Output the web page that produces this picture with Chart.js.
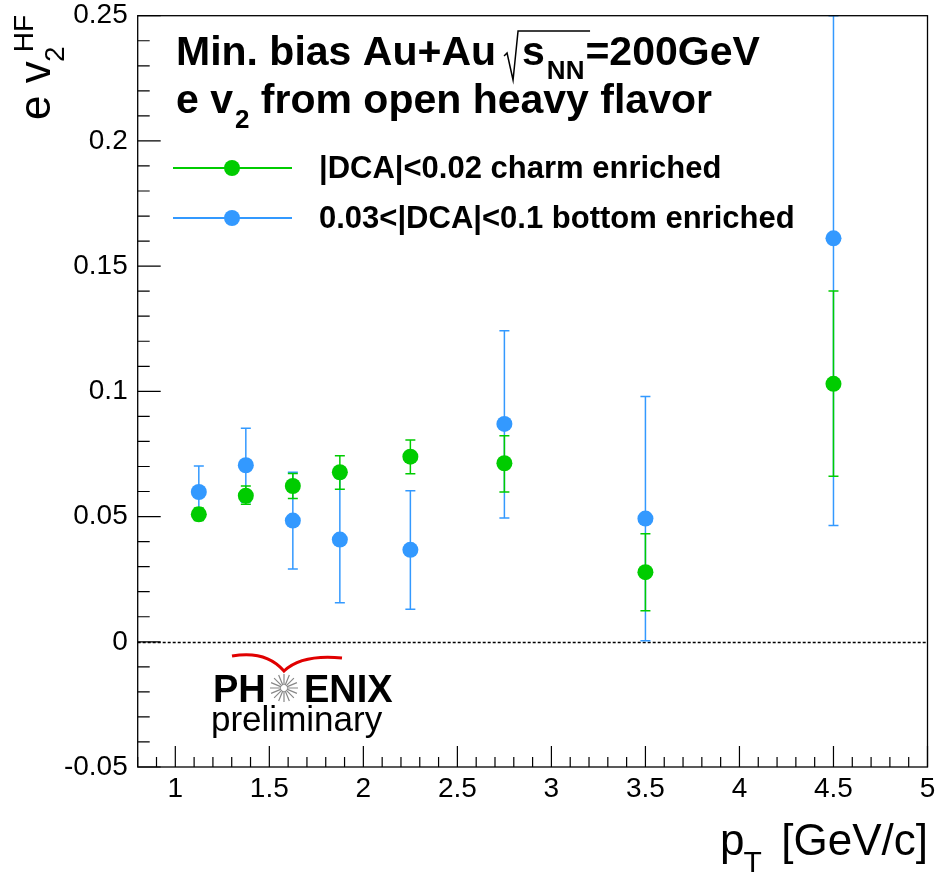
<!DOCTYPE html>
<html lang="en">
<head>
<meta charset="UTF-8">
<title>e v2 from open heavy flavor</title>
<script src="https://cdn.jsdelivr.net/npm/chart.js"></script>
<style>
    body { margin: 0; background: #fff; }
    canvas { display: block; }
</style>
</head>
<body>
<canvas id="v2Chart" width="942" height="874"></canvas>
<script>
const ptBins = [1.125, 1.375, 1.625, 1.875, 2.25, 2.75, 3.5, 4.5];

const charmV2   = [0.0509, 0.0583, 0.0622, 0.0677, 0.0739, 0.0713, 0.0278, 0.1030];
const charmLow  = [0.0484, 0.0549, 0.0572, 0.0609, 0.0671, 0.0598, 0.0124, 0.0661];
const charmHigh = [0.0534, 0.0622, 0.0672, 0.0743, 0.0806, 0.0823, 0.0431, 0.1401];

const bottomV2   = [0.0598, 0.0705, 0.0484, 0.0408, 0.0367, 0.0870, 0.0492, 0.1611];
const bottomLow  = [0.0490, 0.0557, 0.0291, 0.0156, 0.0130, 0.0494, 0.0004, 0.0464];
const bottomHigh = [0.0702, 0.0853, 0.0677, 0.0654, 0.0603, 0.1242, 0.0979, 0.2760];

const xTickValues = [1, 1.5, 2, 2.5, 3, 3.5, 4, 4.5, 5];
const xTickLabels = ['1', '1.5', '2', '2.5', '3', '3.5', '4', '4.5', '5'];
const yTickValues = [-0.05, 0, 0.05, 0.1, 0.15, 0.2, 0.25];
const yTickLabels = ['-0.05', '0', '0.05', '0.1', '0.15', '0.2', '0.25'];

const seriesNames = ['|DCA|<0.02 charm enriched', '0.03<|DCA|<0.1 bottom enriched'];
const seriesColors = ['#00cc00', '#3399ff'];

const FONT = "'Liberation Sans', Arial, Helvetica, sans-serif";

function toPoints(xs, ys, lo, hi) {
    return xs.map((x, i) => ({ x: x, y: ys[i], lo: lo[i], hi: hi[i] }));
}

// ROOT style frame, ticks, error bars, labels and logo
const rootStyle = {
    id: 'rootStyle',
    beforeDatasetsDraw(chart) {
        const ctx = chart.ctx;
        const a = chart.chartArea;
        const xs = chart.scales.x, ys = chart.scales.y;

        // dotted zero line
        ctx.save();
        ctx.strokeStyle = '#000';
        ctx.lineWidth = 1.3;
        ctx.setLineDash([3, 2]);
        const y0 = Math.round(ys.getPixelForValue(0)) + 0.5;
        ctx.beginPath();
        ctx.moveTo(a.left, y0);
        ctx.lineTo(a.right, y0);
        ctx.stroke();
        ctx.restore();

        // error bars
        ctx.save();
        ctx.beginPath();
        ctx.rect(a.left, a.top - 1, a.right - a.left, a.bottom - a.top + 1);
        ctx.clip();
        chart.data.datasets.slice().reverse().forEach(ds => {
            ctx.strokeStyle = ds.backgroundColor;
            ctx.lineWidth = 1.5;
            ds.data.forEach(p => {
                const px = xs.getPixelForValue(p.x);
                const top = Math.max(a.top, ys.getPixelForValue(p.hi));
                const bot = Math.min(a.bottom, ys.getPixelForValue(p.lo));
                ctx.beginPath();
                ctx.moveTo(px, top);
                ctx.lineTo(px, bot);
                ctx.moveTo(px - 5, top);
                ctx.lineTo(px + 5, top);
                ctx.moveTo(px - 5, bot);
                ctx.lineTo(px + 5, bot);
                ctx.stroke();
            });
        });
        ctx.restore();
    },
    afterDraw(chart) {
        const ctx = chart.ctx;
        const a = chart.chartArea;
        const xs = chart.scales.x, ys = chart.scales.y;

        ctx.save();
        // frame
        ctx.strokeStyle = '#000';
        ctx.lineWidth = 1.3;
        ctx.strokeRect(a.left, a.top, a.right - a.left, a.bottom - a.top);

        // x ticks (0.1 steps, long every 0.5)
        ctx.lineWidth = 1.2;
        ctx.beginPath();
        for (let i = 8; i <= 50; i++) {
            const px = xs.getPixelForValue(i / 10);
            const len = (i % 5 === 0) ? 21 : 10;
            ctx.moveTo(px, a.bottom);
            ctx.lineTo(px, a.bottom - len);
        }
        // y ticks (0.01 steps, long every 0.05)
        for (let i = -5; i <= 25; i++) {
            const py = ys.getPixelForValue(i / 100);
            const len = (i % 5 === 0) ? 23 : 12;
            ctx.moveTo(a.left, py);
            ctx.lineTo(a.left + len, py);
        }
        ctx.stroke();

        ctx.fillStyle = '#000';
        ctx.textBaseline = 'alphabetic';
        ctx.textAlign = 'left';

        // x axis title: p_T [GeV/c]
        ctx.font = '44px ' + FONT;
        let x = 720;
        ctx.fillText('p', x, 855);
        x += ctx.measureText('p').width;
        ctx.font = '30px ' + FONT;
        ctx.fillText('T', x - 1, 872);
        ctx.font = '44px ' + FONT;
        ctx.textAlign = 'right';
        ctx.fillText('[GeV/c]', 928, 855);
        ctx.textAlign = 'left';

        // y axis title: e v_2^HF (rotated)
        ctx.save();
        ctx.rotate(-Math.PI / 2);
        ctx.font = '44px ' + FONT;
        ctx.fillText('e v', -120, 50);
        ctx.font = '28px ' + FONT;
        ctx.fillText('2', -62, 64);
        const hfW = ctx.measureText('HF').width;
        ctx.fillText('HF', -15 - hfW, 33);
        ctx.restore();

        // header line 1: Min. bias Au+Au sqrt(s_NN)=200GeV
        ctx.font = 'bold 41px ' + FONT;
        x = 176;
        ctx.fillText('Min. bias Au+Au', x, 65);
        x += ctx.measureText('Min. bias Au+Au').width + 8;
        ctx.lineWidth = 1.5;
        ctx.beginPath();
        ctx.moveTo(x, 56);
        ctx.lineTo(x + 3, 53);
        ctx.lineTo(x + 9, 80);
        ctx.lineTo(x + 14, 31);
        ctx.lineTo(x + 86, 31);
        ctx.stroke();
        x += 18;
        ctx.fillText('s', x, 65);
        x += ctx.measureText('s').width + 2;
        ctx.font = 'bold 26px ' + FONT;
        ctx.fillText('NN', x, 79);
        x += ctx.measureText('NN').width + 1;
        ctx.font = 'bold 41px ' + FONT;
        ctx.fillText('=200GeV', x, 65);

        // header line 2: e v_2 from open heavy flavor
        x = 176;
        ctx.fillText('e v', x, 113);
        x += ctx.measureText('e v').width + 2;
        ctx.font = 'bold 26px ' + FONT;
        ctx.fillText('2', x, 128);
        x += ctx.measureText('2').width;
        ctx.font = 'bold 41px ' + FONT;
        ctx.fillText(' from open heavy flavor', x, 113);

        // legend
        const rows = [168, 218];
        rows.forEach((ry, i) => {
            ctx.strokeStyle = seriesColors[i];
            ctx.lineWidth = 2;
            ctx.beginPath();
            ctx.moveTo(173, ry);
            ctx.lineTo(292, ry);
            ctx.stroke();
            ctx.fillStyle = seriesColors[i];
            ctx.beginPath();
            ctx.arc(232, ry, 8, 0, Math.PI * 2);
            ctx.fill();
            ctx.fillStyle = '#000';
            ctx.font = 'bold 31px ' + FONT;
            ctx.fillText(seriesNames[i], 319, ry + 10);
        });

        // PHENIX preliminary logo
        ctx.strokeStyle = '#e00000';
        ctx.lineWidth = 3;
        ctx.beginPath();
        ctx.moveTo(232, 656);
        ctx.quadraticCurveTo(266, 650, 284, 671);
        ctx.quadraticCurveTo(302, 654, 342, 658);
        ctx.stroke();

        ctx.fillStyle = '#000';
        ctx.font = 'bold 38px ' + FONT;
        ctx.fillText('PH', 213, 702);
        ctx.fillText('ENIX', 304, 702);

        ctx.strokeStyle = '#888';
        ctx.lineWidth = 1.2;
        ctx.beginPath();
        for (let k = 0; k < 16; k++) {
            const ang = k * Math.PI / 8;
            ctx.moveTo(284 + Math.cos(ang) * 3, 688 + Math.sin(ang) * 3);
            ctx.lineTo(284 + Math.cos(ang) * 14, 688 + Math.sin(ang) * 14);
        }
        ctx.stroke();

        ctx.font = '35px ' + FONT;
        ctx.fillText('preliminary', 211, 731);
        ctx.restore();
    }
};

const ctx = document.getElementById('v2Chart').getContext('2d');
const v2Chart = new Chart(ctx, {
    type: 'scatter',
    data: {
        datasets: [
            {
                label: seriesNames[0],
                data: toPoints(ptBins, charmV2, charmLow, charmHigh),
                backgroundColor: seriesColors[0],
                borderColor: seriesColors[0],
                borderWidth: 0,
                pointRadius: 8,
                pointHoverRadius: 8
            },
            {
                label: seriesNames[1],
                data: toPoints(ptBins, bottomV2, bottomLow, bottomHigh),
                backgroundColor: seriesColors[1],
                borderColor: seriesColors[1],
                borderWidth: 0,
                pointRadius: 8,
                pointHoverRadius: 8
            }
        ]
    },
    options: {
        responsive: false,
        animation: false,
        events: [],
        layout: { padding: { left: 0, top: 15.7, right: 14.5, bottom: 0 } },
        scales: {
            x: {
                type: 'linear',
                min: 0.8,
                max: 5,
                grid: { display: false, drawTicks: false },
                border: { display: false },
                afterBuildTicks: s => { s.ticks = xTickValues.map(v => ({ value: v })); },
                afterFit: s => { s.height = 107; s.paddingLeft = 0; s.paddingRight = 0; },
                ticks: {
                    autoSkip: false,
                    maxRotation: 0,
                    padding: 5,
                    color: '#000',
                    font: { family: FONT, size: 28 },
                    callback: (value, index) => xTickLabels[index]
                }
            },
            y: {
                type: 'linear',
                min: -0.05,
                max: 0.25,
                grid: { display: false, drawTicks: false },
                border: { display: false },
                afterBuildTicks: s => { s.ticks = yTickValues.map(v => ({ value: v })); },
                afterFit: s => { s.width = 137.7; s.paddingTop = 0; s.paddingBottom = 0; },
                ticks: {
                    autoSkip: false,
                    padding: 10,
                    color: '#000',
                    font: { family: FONT, size: 28 },
                    callback: (value, index) => yTickLabels[index]
                }
            }
        },
        plugins: {
            legend: { display: false },
            tooltip: { enabled: false }
        }
    },
    plugins: [rootStyle]
});
</script>
</body>
</html>
